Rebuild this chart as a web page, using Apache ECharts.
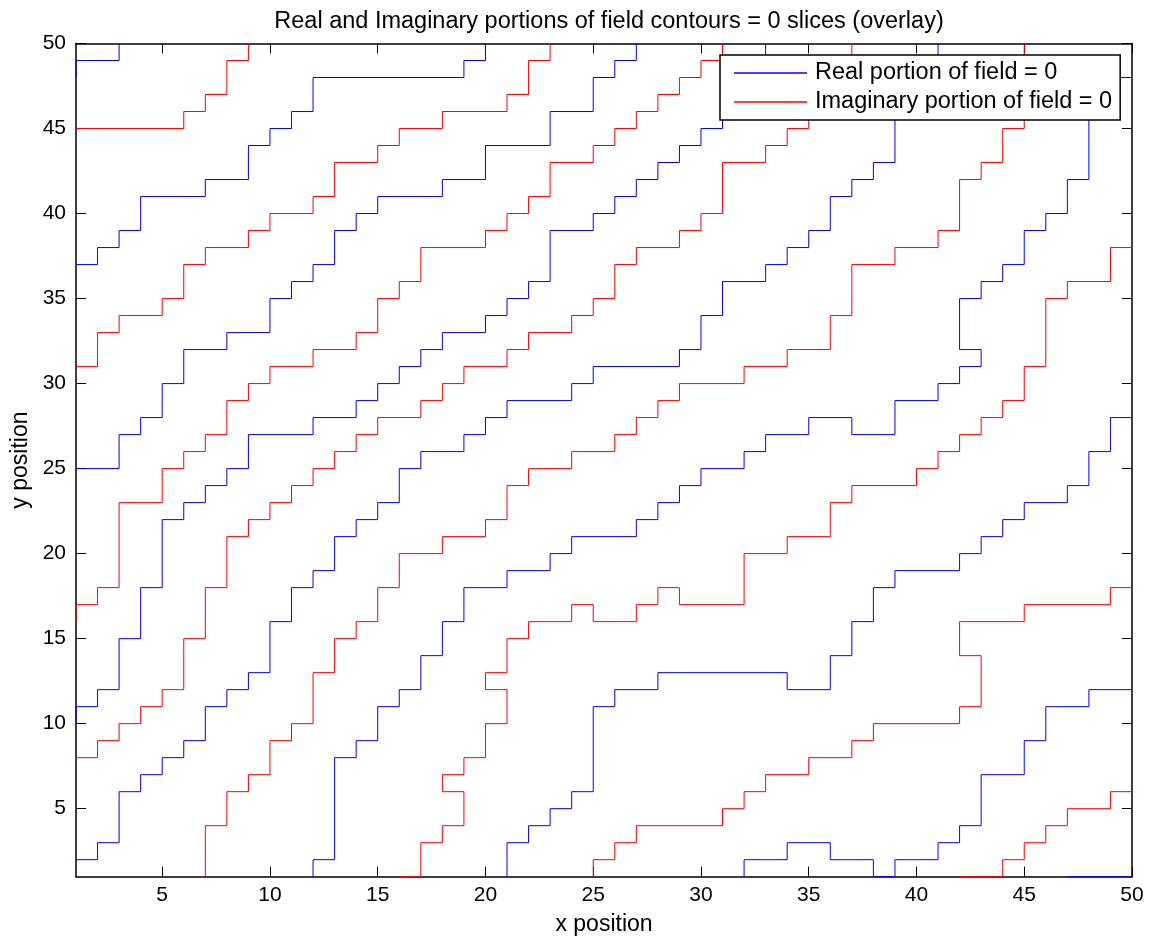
<!DOCTYPE html>
<html>
<head>
<meta charset="utf-8">
<script src="https://cdn.jsdelivr.net/npm/echarts@6/dist/echarts.min.js"></script>
<style>
html,body{margin:0;padding:0;background:#fff;}
#chart{width:1155px;height:941px;}
</style>
</head>
<body>
<div id="chart"></div>
<script>
// ---- Data: contour polylines (x, y) ----
const xTicks = [5,10,15,20,25,30,35,40,45,50];
const yTicks = [5,10,15,20,25,30,35,40,45,50];

const REAL_NAME = 'Real portion of field = 0';
const IMAG_NAME = 'Imaginary portion of field = 0';

const real1 = [[1,48],[1,49],[3,49],[3,50]];
const real2 = [[1,37],[2,37],[2,38],[3,38],[3,39],[4,39],[4,41],[7,41],[7,42],[9,42],[9,44],[10,44],[10,45],[11,45],[11,46],[12,46],[12,48],[19,48],[19,49],[20,49],[20,50]];
const real3 = [[1,25],[3,25],[3,27],[4,27],[4,28],[5,28],[5,30],[6,30],[6,32],[8,32],[8,33],[10,33],[10,35],[11,35],[11,36],[12,36],[12,37],[13,37],[13,39],[14,39],[14,40],[15,40],[15,41],[18,41],[18,42],[20,42],[20,44],[23,44],[23,46],[25,46],[25,48],[26,48],[26,49],[27,49],[27,50]];
const real4 = [[1,10],[1,11],[2,11],[2,12],[3,12],[3,15],[4,15],[4,18],[5,18],[5,22],[6,22],[6,23],[7,23],[7,24],[8,24],[8,25],[9,25],[9,27],[12,27],[12,28],[14,28],[14,29],[15,29],[15,30],[16,30],[16,31],[17,31],[17,32],[18,32],[18,33],[20,33],[20,34],[21,34],[21,35],[22,35],[22,36],[23,36],[23,39],[25,39],[25,40],[26,40],[26,41],[27,41],[27,42],[28,42],[28,43],[29,43],[29,44],[30,44],[30,45],[31,45],[31,47],[32,47],[32,49],[33,49],[33,50]];
const real5 = [[1,2],[2,2],[2,3],[3,3],[3,6],[4,6],[4,7],[5,7],[5,8],[6,8],[6,9],[7,9],[7,11],[8,11],[8,12],[9,12],[9,13],[10,13],[10,16],[11,16],[11,18],[12,18],[12,19],[13,19],[13,21],[14,21],[14,22],[15,22],[15,23],[16,23],[16,25],[17,25],[17,26],[19,26],[19,27],[20,27],[20,28],[21,28],[21,29],[24,29],[24,30],[25,30],[25,31],[29,31],[29,32],[30,32],[30,34],[31,34],[31,36],[33,36],[33,37],[34,37],[34,38],[35,38],[35,39],[36,39],[36,41],[37,41],[37,42],[38,42],[38,43],[39,43],[39,47],[40,47],[40,49],[41,49],[41,50]];
const real6 = [[12,1],[12,2],[13,2],[13,8],[14,8],[14,9],[15,9],[15,11],[16,11],[16,12],[17,12],[17,14],[18,14],[18,16],[19,16],[19,18],[21,18],[21,19],[23,19],[23,20],[24,20],[24,21],[27,21],[27,22],[28,22],[28,23],[29,23],[29,24],[30,24],[30,25],[32,25],[32,26],[33,26],[33,27],[35,27],[35,28],[37,28],[37,27],[39,27],[39,29],[41,29],[41,30],[42,30],[42,31],[43,31],[43,32],[42,32],[42,35],[43,35],[43,36],[44,36],[44,37],[45,37],[45,39],[46,39],[46,40],[47,40],[47,42],[48,42],[48,46],[49,46],[49,48],[50,48]];
const real7 = [[21,1],[21,3],[22,3],[22,4],[23,4],[23,5],[24,5],[24,6],[25,6],[25,11],[26,11],[26,12],[28,12],[28,13],[34,13],[34,12],[36,12],[36,14],[37,14],[37,16],[38,16],[38,18],[39,18],[39,19],[42,19],[42,20],[43,20],[43,21],[44,21],[44,22],[45,22],[45,23],[47,23],[47,24],[48,24],[48,26],[49,26],[49,28],[50,28]];
const real8 = [[32,1],[32,2],[34,2],[34,3],[36,3],[36,2],[38,2],[38,1],[39,1],[39,2],[41,2],[41,3],[42,3],[42,4],[43,4],[43,7],[45,7],[45,9],[46,9],[46,11],[48,11],[48,12],[50,12]];
const real9 = [[47,1],[50,1]];

const imag1 = [[1,45],[6,45],[6,46],[7,46],[7,47],[8,47],[8,49],[9,49],[9,50]];
const imag2 = [[1,31],[2,31],[2,33],[3,33],[3,34],[5,34],[5,35],[6,35],[6,37],[7,37],[7,38],[9,38],[9,39],[10,39],[10,40],[12,40],[12,41],[13,41],[13,43],[15,43],[15,44],[16,44],[16,45],[18,45],[18,46],[21,46],[21,47],[22,47],[22,49],[23,49],[23,50]];
const imag3 = [[1,16],[1,17],[2,17],[2,18],[3,18],[3,23],[5,23],[5,25],[6,25],[6,26],[7,26],[7,27],[8,27],[8,29],[9,29],[9,30],[10,30],[10,31],[12,31],[12,32],[14,32],[14,33],[15,33],[15,35],[16,35],[16,36],[17,36],[17,38],[20,38],[20,39],[21,39],[21,40],[22,40],[22,41],[23,41],[23,43],[25,43],[25,44],[26,44],[26,45],[27,45],[27,46],[28,46],[28,47],[29,47],[29,48],[30,48],[30,49],[31,49],[31,50]];
const imag4 = [[1,8],[2,8],[2,9],[3,9],[3,10],[4,10],[4,11],[5,11],[5,12],[6,12],[6,15],[7,15],[7,18],[8,18],[8,21],[9,21],[9,22],[10,22],[10,23],[11,23],[11,24],[12,24],[12,25],[13,25],[13,26],[14,26],[14,27],[15,27],[15,28],[17,28],[17,29],[18,29],[18,30],[19,30],[19,31],[21,31],[21,32],[22,32],[22,33],[24,33],[24,34],[25,34],[25,35],[26,35],[26,37],[27,37],[27,38],[29,38],[29,39],[30,39],[30,40],[31,40],[31,43],[33,43],[33,44],[34,44],[34,45],[35,45],[35,47],[36,47],[36,49],[37,49],[37,50]];
const imag5 = [[7,1],[7,4],[8,4],[8,6],[9,6],[9,7],[10,7],[10,9],[11,9],[11,10],[12,10],[12,13],[13,13],[13,15],[14,15],[14,16],[15,16],[15,18],[16,18],[16,20],[18,20],[18,21],[20,21],[20,22],[21,22],[21,24],[22,24],[22,25],[24,25],[24,26],[26,26],[26,27],[27,27],[27,28],[28,28],[28,29],[29,29],[29,30],[32,30],[32,31],[34,31],[34,32],[36,32],[36,34],[37,34],[37,37],[39,37],[39,38],[41,38],[41,39],[42,39],[42,42],[43,42],[43,43],[44,43],[44,45],[45,45],[45,50]];
const imag6 = [[16,1],[17,1],[17,3],[18,3],[18,4],[19,4],[19,6],[18,6],[18,7],[19,7],[19,8],[20,8],[20,10],[21,10],[21,12],[20,12],[20,13],[21,13],[21,15],[22,15],[22,16],[24,16],[24,17],[25,17],[25,16],[27,16],[27,17],[28,17],[28,18],[29,18],[29,17],[32,17],[32,20],[34,20],[34,21],[36,21],[36,23],[37,23],[37,24],[40,24],[40,25],[41,25],[41,26],[42,26],[42,27],[43,27],[43,28],[44,28],[44,29],[45,29],[45,31],[46,31],[46,35],[47,35],[47,36],[49,36],[49,38],[50,38]];
const imag7 = [[25,1],[25,2],[26,2],[26,3],[27,3],[27,4],[31,4],[31,5],[32,5],[32,6],[33,6],[33,7],[35,7],[35,8],[37,8],[37,9],[38,9],[38,10],[42,10],[42,11],[43,11],[43,14],[42,14],[42,16],[45,16],[45,17],[49,17],[49,18],[50,18]];
const imag8 = [[42,1],[44,1],[44,2],[45,2],[45,3],[46,3],[46,4],[47,4],[47,5],[49,5],[49,6],[50,6]];

const realLines = [real1, real2, real3, real4, real5, real6, real7, real8, real9];
const imagLines = [imag1, imag2, imag3, imag4, imag5, imag6, imag7, imag8];

// ---- Chart ----
const FONT = 'Liberation Sans, Arial, sans-serif';
const BLUE = '#0000ff';
const RED = '#ff0000';

function lineSeries(data, name, color) {
  return {
    type: 'line', name: name, data: data,
    symbol: 'none', showSymbol: false, silent: true, animation: false,
    lineStyle: { color: color, width: 1 },
    itemStyle: { color: color },
    z: 2
  };
}

const series = [];
realLines.forEach(d => series.push(lineSeries(d, REAL_NAME, BLUE)));
imagLines.forEach(d => series.push(lineSeries(d, IMAG_NAME, RED)));

const axisCommonLine = { show: true, onZero: false, lineStyle: { color: '#000', width: 1.5 } };
const tickStyle = { show: true, inside: true, length: 10, lineStyle: { color: '#000', width: 1 } };

const chart = echarts.init(document.getElementById('chart'), null, { renderer: 'canvas' });
chart.setOption({
  backgroundColor: '#fff',
  animation: false,
  title: {
    text: 'Real and Imaginary portions of field contours = 0 slices (overlay)',
    left: 604, top: 5, textAlign: 'center',
    textStyle: { fontFamily: FONT, fontSize: 23.5, fontWeight: 'normal', color: '#000' }
  },
  legend: {
    data: [REAL_NAME, IMAG_NAME],
    orient: 'vertical',
    left: 720, top: 55,
    padding: [5, 8, 5, 14],
    itemGap: 3,
    itemWidth: 73, itemHeight: 1.5,
    icon: 'rect',
    backgroundColor: '#fff',
    borderColor: '#000', borderWidth: 1.5, borderRadius: 0,
    textStyle: { fontFamily: FONT, fontSize: 23.5, color: '#000', lineHeight: 26, padding: [0, 0, 0, 3] },
    selectedMode: false,
    z: 10
  },
  grid: { left: 76, right: 23, top: 43.5, bottom: 64.3, containLabel: false, show: false },
  xAxis: [
    {
      type: 'value', min: 1, max: 50, position: 'bottom',
      name: 'x position', nameLocation: 'middle', nameGap: 36,
      nameTextStyle: { fontFamily: FONT, fontSize: 23, color: '#000' },
      axisLine: axisCommonLine,
      axisTick: Object.assign({}, tickStyle, { customValues: xTicks }),
      axisLabel: { customValues: xTicks, fontFamily: FONT, fontSize: 21, color: '#000', margin: 8 },
      splitLine: { show: false }
    },
    {
      type: 'value', min: 1, max: 50, position: 'top',
      axisLine: axisCommonLine,
      axisTick: Object.assign({}, tickStyle, { customValues: xTicks }),
      axisLabel: { show: false },
      splitLine: { show: false }
    }
  ],
  yAxis: [
    {
      type: 'value', min: 1, max: 50, position: 'left',
      name: 'y position', nameLocation: 'middle', nameGap: 42,
      nameTextStyle: { fontFamily: FONT, fontSize: 23, color: '#000' },
      axisLine: axisCommonLine,
      axisTick: Object.assign({}, tickStyle, { customValues: yTicks }),
      axisLabel: { customValues: yTicks, fontFamily: FONT, fontSize: 21, color: '#000', margin: 10 },
      splitLine: { show: false }
    },
    {
      type: 'value', min: 1, max: 50, position: 'right',
      axisLine: axisCommonLine,
      axisTick: Object.assign({}, tickStyle, { customValues: yTicks }),
      axisLabel: { show: false },
      splitLine: { show: false }
    }
  ],
  series: series
});
</script>
</body>
</html>
